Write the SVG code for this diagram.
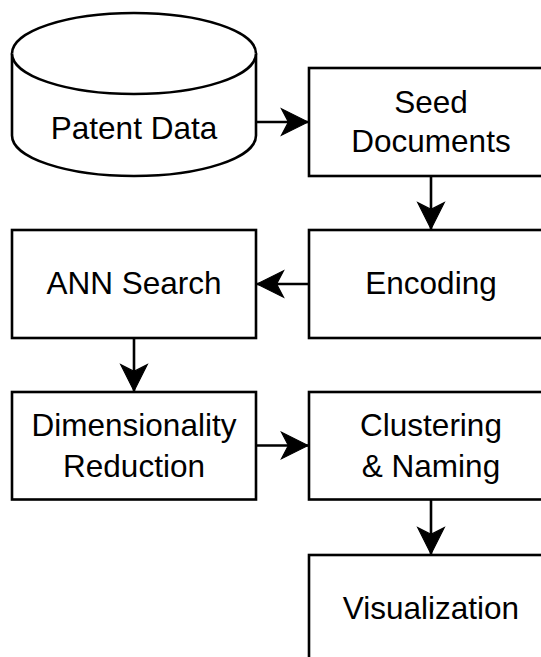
<svg xmlns="http://www.w3.org/2000/svg" width="541" height="657" viewBox="0 0 541 657">
  <style>
    .shape { fill: #ffffff; stroke: #000000; stroke-width: 2.6; }
    .edge { fill: none; stroke: #000000; stroke-width: 2.6; marker-end: url(#arrow); }
    .label { font-family: "Liberation Sans", Arial, Helvetica, sans-serif; font-size: 31.5px; fill: #000000; text-anchor: middle; }
  </style>
  <defs>
    <marker id="arrow" markerUnits="userSpaceOnUse" markerWidth="30" markerHeight="30" viewBox="-24 -13 26 26" refX="0" refY="0" orient="auto">
      <path d="M0,0 L-23,-11.5 L-17,0 L-23,11.5 Z" fill="#000000" stroke="#000000" stroke-width="1"/>
    </marker>
  </defs>
  <rect width="541" height="657" fill="#ffffff"/>

  <g id="connectors">
    <line class="edge" x1="256" y1="122" x2="308" y2="122"/>
    <line class="edge" x1="431" y1="176" x2="431" y2="229"/>
    <line class="edge" x1="309" y1="284" x2="257" y2="284"/>
    <line class="edge" x1="134" y1="338" x2="134" y2="391"/>
    <line class="edge" x1="256" y1="445.5" x2="308" y2="445.5"/>
    <line class="edge" x1="431" y1="499.5" x2="431" y2="554"/>
  </g>

  <g id="patent-data">
    <path class="shape" d="M12,53.5 A122,40.5 0 0 1 256,53.5 L256,135.5 A122,40.5 0 0 1 12,135.5 Z"/>
    <path class="shape" d="M12,53.5 A122,40.5 0 0 0 256,53.5" fill="none"/>
    <text class="label" x="134" y="138.5">Patent Data</text>
  </g>

  <g id="seed-documents">
    <rect class="shape" x="309" y="68" width="244" height="108"/>
    <text class="label" x="431" y="112.5">Seed</text>
    <text class="label" x="431" y="152">Documents</text>
  </g>

  <g id="encoding">
    <rect class="shape" x="309" y="230" width="244" height="108"/>
    <text class="label" x="431" y="294">Encoding</text>
  </g>

  <g id="ann-search">
    <rect class="shape" x="12" y="230" width="244" height="108"/>
    <text class="label" x="134" y="294">ANN Search</text>
  </g>

  <g id="dimensionality-reduction">
    <rect class="shape" x="12" y="392" width="244" height="107.5"/>
    <text class="label" x="134" y="436">Dimensionality</text>
    <text class="label" x="134" y="476.5">Reduction</text>
  </g>

  <g id="clustering-naming">
    <rect class="shape" x="309" y="392" width="244" height="107.5"/>
    <text class="label" x="431" y="436">Clustering</text>
    <text class="label" x="431" y="476.5">&amp; Naming</text>
  </g>

  <g id="visualization">
    <rect class="shape" x="309" y="555" width="244" height="108"/>
    <text class="label" x="431" y="618.5">Visualization</text>
  </g>
</svg>
